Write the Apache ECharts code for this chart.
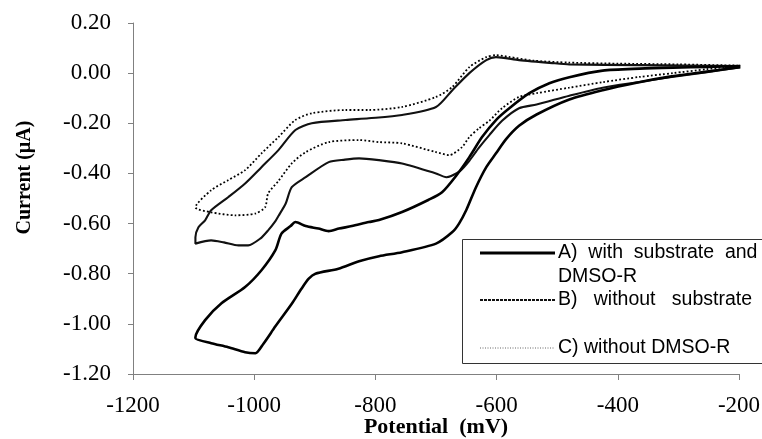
<!DOCTYPE html>
<html>
<head>
<meta charset="utf-8">
<script src="https://cdn.jsdelivr.net/npm/echarts@6/dist/echarts.min.js"></script>
<style>
html,body{margin:0;padding:0;background:#fff;}
#chart{width:762px;height:439px;}
</style>
</head>
<body>
<div id="chart"></div>
<script>
// Axis ticks
var xTicks = [-1200, -1000, -800, -600, -400, -200];
var yTicks = [-1.20, -1.00, -0.80, -0.60, -0.40, -0.20, 0.00, 0.20];

// Series names
var seriesNames = ['A) with substrate and DMSO-R', 'B) without substrate', 'C) without DMSO-R'];

// A) with substrate and DMSO-R : potential (mV) / current (uA), closed loop
var aPotential = [-198,-253,-314,-369,-425,-480,-534,-563,-585,-601,-617,-634,-650,-662,-673,-700,-756,-794,-827,-861,-899,-910,-922,-938,-965,-985,-998,-1015,-1043,-1071,-1097,
  -1097,-1081,-1054,-1015,-988,-965,-955,-940,-932,-915,-894,-877,-860,-839,-811,-794,-756,-712,-690,-667,-645,-624,-601,-579,-546,-513,-480,-425,-364,-309,-250,-198];
var aCurrent = [0.024,0.006,-0.014,-0.038,-0.068,-0.105,-0.165,-0.21,-0.265,-0.32,-0.375,-0.455,-0.546,-0.60,-0.634,-0.68,-0.714,-0.73,-0.75,-0.78,-0.80,-0.82,-0.86,-0.92,-1.01,-1.08,-1.117,-1.113,-1.093,-1.077,-1.057,
  -1.053,-0.985,-0.918,-0.853,-0.786,-0.706,-0.64,-0.61,-0.594,-0.61,-0.62,-0.63,-0.62,-0.61,-0.594,-0.586,-0.554,-0.505,-0.475,-0.41,-0.335,-0.255,-0.187,-0.14,-0.08,-0.04,-0.016,0.01,0.018,0.022,0.025,0.028];

// B) without substrate
var bPotential = [-198,-253,-314,-364,-425,-480,-534,-563,-591,-612,-630,-645,-660,-675,-683,-700,-756,-794,-827,-850,-877,-915,-938,-948,-960,-965,-977,-990,-1010,-1026,-1050,-1071,-1097,
  -1097,-1092,-1081,-1071,-1043,-1015,-988,-960,-932,-905,-849,-811,-756,-700,-673,-645,-617,-601,-563,-508,-480,-364,-198];
var bCurrent = [0.024,0.004,-0.016,-0.035,-0.058,-0.09,-0.125,-0.14,-0.19,-0.247,-0.30,-0.35,-0.39,-0.41,-0.415,-0.40,-0.36,-0.347,-0.34,-0.345,-0.355,-0.415,-0.455,-0.52,-0.57,-0.59,-0.627,-0.66,-0.687,-0.687,-0.675,-0.667,-0.68,
  -0.655,-0.615,-0.587,-0.547,-0.495,-0.44,-0.375,-0.307,-0.227,-0.20,-0.187,-0.18,-0.167,-0.135,-0.068,0.0,0.052,0.064,0.052,0.04,0.035,0.032,0.028];

// C) without DMSO-R
var cPotential = [-198,-253,-309,-364,-425,-480,-534,-563,-591,-612,-629,-645,-657,-678,-700,-756,-794,-827,-877,-915,-938,-960,-977,-982,-998,-1031,-1071,-1097,
  -1071,-1043,-1015,-988,-960,-932,-905,-849,-811,-756,-700,-673,-645,-617,-601,-580,-540,-480,-400,-300,-198];
var cCurrent = [0.03,0.016,0.0,-0.015,-0.036,-0.058,-0.08,-0.095,-0.14,-0.19,-0.22,-0.255,-0.295,-0.327,-0.315,-0.28,-0.275,-0.267,-0.275,-0.315,-0.36,-0.43,-0.48,-0.535,-0.56,-0.567,-0.555,-0.535,
  -0.467,-0.427,-0.387,-0.32,-0.255,-0.187,-0.16,-0.147,-0.147,-0.135,-0.095,-0.055,0.024,0.064,0.072,0.065,0.05,0.042,0.038,0.035,0.03];

function pairs(xs, ys){ var out=[]; for(var i=0;i<xs.length;i++){ out.push([xs[i], ys[i]]); } return out; }

var chart = echarts.init(document.getElementById('chart'), null, {renderer:'canvas'});
var axisGray = '#808080';
var serif = '"Liberation Serif","Times New Roman",serif';
var sans = '"Liberation Sans",Arial,sans-serif';
var legendFont = '19.5px ' + sans;

var option = {
  animation: false,
  backgroundColor: '#ffffff',
  grid: {left: 133, right: 23, top: 23, bottom: 65, containLabel: false, outerBoundsMode: 'none'},
  xAxis: {
    type: 'value',
    min: xTicks[0], max: xTicks[xTicks.length-1], interval: 200,
    name: 'Potential  (mV)', nameLocation: 'middle', nameGap: 42, nameMoveOverlap: false,
    nameTextStyle: {fontFamily: serif, fontWeight: 'bold', fontSize: 22, color: '#000'},
    axisLine: {show: true, onZero: false, lineStyle: {color: axisGray, width: 1}},
    axisTick: {show: true, inside: false, length: 6, lineStyle: {color: axisGray}},
    axisLabel: {fontFamily: serif, fontSize: 23, color: '#000', margin: 20,
      formatter: function(v){ return String(Math.round(v)); }},
    splitLine: {show: false}
  },
  yAxis: {
    type: 'value',
    min: yTicks[0], max: yTicks[yTicks.length-1], interval: 0.2,
    name: 'Current (\u00B5A)', nameLocation: 'middle', nameGap: 98, nameMoveOverlap: false,
    nameTextStyle: {fontFamily: serif, fontWeight: 'bold', fontSize: 20, color: '#000', padding: [0, 0, 0, 42]},
    axisLine: {show: true, onZero: false, lineStyle: {color: axisGray, width: 1}},
    axisTick: {show: true, inside: false, length: 5, lineStyle: {color: axisGray}},
    axisLabel: {fontFamily: serif, fontSize: 23, color: '#000', margin: 22,
      formatter: function(v){ return v.toFixed(2); }},
    splitLine: {show: false}
  },
  series: [
    {name: seriesNames[2], type: 'line', data: pairs(cPotential, cCurrent), showSymbol: false, smooth: 0.25,
     lineStyle: {color: '#000', width: 1.8, type: [1.8, 2.2]}, z: 2},
    {name: seriesNames[1], type: 'line', data: pairs(bPotential, bCurrent), showSymbol: false, smooth: 0.25,
     lineStyle: {color: '#111', width: 2.1, type: 'solid'}, z: 3},
    {name: seriesNames[0], type: 'line', data: pairs(aPotential, aCurrent), showSymbol: false, smooth: 0.25,
     lineStyle: {color: '#000', width: 2.6}, z: 4}
  ],
  graphic: [
    {type: 'rect', shape: {x: 462.5, y: 239.5, width: 310, height: 124}, style: {fill: '#fff', stroke: '#333', lineWidth: 1}, z: 10},
    {type: 'line', shape: {x1: 480, y1: 253, x2: 555, y2: 253}, style: {stroke: '#000', lineWidth: 3}, z: 11},
    {type: 'line', shape: {x1: 480, y1: 300, x2: 555, y2: 300}, style: {stroke: '#111', lineWidth: 1.8, lineDash: [3, 1]}, z: 11},
    {type: 'line', shape: {x1: 480, y1: 348, x2: 555, y2: 348}, style: {stroke: '#666', lineWidth: 1, lineDash: [1, 1.5]}, z: 11},
    {type: 'text', x: 558, y: 253, style: {text: 'A)  with  substrate  and', font: legendFont, fill: '#000', verticalAlign: 'middle'}, z: 11},
    {type: 'text', x: 558, y: 277, style: {text: 'DMSO-R', font: legendFont, fill: '#000', verticalAlign: 'middle'}, z: 11},
    {type: 'text', x: 558, y: 300, style: {text: 'B)   without   substrate', font: legendFont, fill: '#000', verticalAlign: 'middle'}, z: 11},
    {type: 'text', x: 558, y: 348, style: {text: 'C) without DMSO-R', font: legendFont, fill: '#000', verticalAlign: 'middle'}, z: 11}
  ]
};
chart.setOption(option);
</script>
</body>
</html>
